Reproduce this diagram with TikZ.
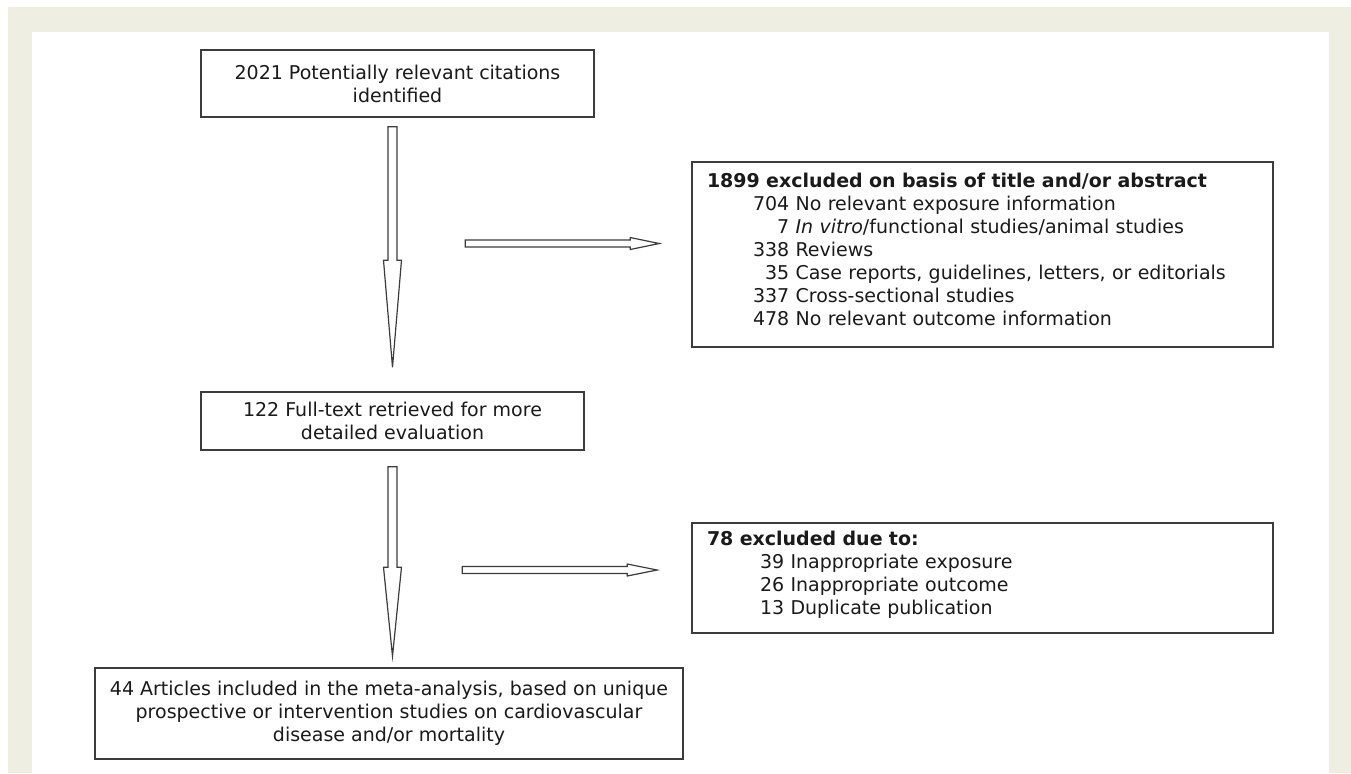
\documentclass[tikz,border=0pt]{standalone}
\usepackage{fontspec}
\setmainfont{DejaVu Sans}
\usepackage{xcolor}
\usepackage{tikz}
\usetikzlibrary{positioning, calc}

\definecolor{framebg}{RGB}{239,238,227}
\definecolor{boxline}{RGB}{60,60,60}
\definecolor{inktext}{RGB}{26,26,26}

\newcommand{\downblock}[3]{%
  \draw[blockarr] ($(#1)+(-4.5,0)$) -- ($(#2)+(-4.5,-#3)$) -- ($(#2)+(-9,-#3)$) -- (#2)
    -- ($(#2)+(9,-#3)$) -- ($(#2)+(4.5,-#3)$) -- ($(#1)+(4.5,0)$) -- cycle;}
\newcommand{\rightblock}[3]{%
  \draw[blockarr] ($(#1)+(0,-3.5)$) -- ($(#2)+(-#3,-3.5)$) -- ($(#2)+(-#3,-6)$) -- (#2)
    -- ($(#2)+(-#3,6)$) -- ($(#2)+(-#3,3.5)$) -- ($(#1)+(0,3.5)$) -- cycle;}
\newcommand{\topstrut}{\rule{0pt}{11pt}}
\newcommand{\botstrut}{\rule[-9.5pt]{0pt}{0pt}}

\begin{document}
\begin{tikzpicture}[
    x=0.5pt, y=-0.5pt,
    txt/.style={font=\fontsize{9.5}{11.5}\selectfont, text=inktext},
    flowbox/.style={draw=boxline, line width=0.8pt, txt, align=center, inner sep=0pt},
    exbox/.style={draw=boxline, line width=0.8pt, txt, align=left, text width=275.5pt,
                  inner xsep=7.5pt, inner ysep=0pt, minimum width=290.5pt},
    blockarr/.style={draw=boxline, line width=0.6pt, fill=white, line join=miter},
]
    \useasboundingbox (0,0) rectangle (1351,773);
    \fill[framebg] (8,7) rectangle (1351,773);
    \fill[white] (32,32) rectangle (1329,773);

    \node[flowbox, minimum width=196.5pt, minimum height=33.5pt] (cite) at (397.5,83.5)
        {2021 Potentially relevant citations\\identified};
    \node[flowbox, minimum width=191.5pt, minimum height=29pt] (full) at (392.5,421)
        {122 Full-text retrieved for more\\detailed evaluation};
    \node[flowbox, minimum width=294pt, minimum height=45.5pt] (incl) at (389,713.5)
        {44 Articles included in the meta-analysis, based on unique\\
         prospective or intervention studies on cardiovascular\\
         disease and/or mortality};
    \node[exbox, minimum height=92.5pt] (exone) at (982.5,254.5) {%
        \topstrut\textbf{1899 excluded on basis of title and/or abstract}\\
        \hspace*{23pt}704 No relevant exposure information\\
        \hspace*{23pt}\phantom{00}7 \textit{In vitro}/functional studies/animal studies\\
        \hspace*{23pt}338 Reviews\\
        \hspace*{23pt}\phantom{0}35 Case reports, guidelines, letters, or editorials\\
        \hspace*{23pt}337 Cross-sectional studies\\
        \hspace*{23pt}478 No relevant outcome information\botstrut};
    \node[exbox, minimum height=55pt] (extwo) at (982.5,578) {%
        \topstrut\textbf{78 excluded due to:}\\
        \hspace*{26.5pt}39 Inappropriate exposure\\
        \hspace*{26.5pt}26 Inappropriate outcome\\
        \hspace*{26.5pt}13 Duplicate publication\botstrut};

    \coordinate (topin) at ($(full.north |- cite.south)+(0,9)$);
    \coordinate (topout) at ($(full.north)+(0,-24)$);
    \coordinate (midin) at ($(full.south)+(0,16)$);
    \coordinate (midout) at ($(full.south |- incl.north)+(0,-11)$);
    \coordinate (exonefrom) at ($(exone.west)+(-226,-11)$);
    \coordinate (exoneto) at ($(exone.west)+(-32,-11)$);
    \coordinate (extwofrom) at ($(extwo.west)+(-229,-8)$);
    \coordinate (extwoto) at ($(extwo.west)+(-34,-8)$);

    \downblock{topin}{topout}{107}
    \downblock{midin}{midout}{89}
    \rightblock{exonefrom}{exoneto}{29}
    \rightblock{extwofrom}{extwoto}{30}
\end{tikzpicture}
\end{document}
